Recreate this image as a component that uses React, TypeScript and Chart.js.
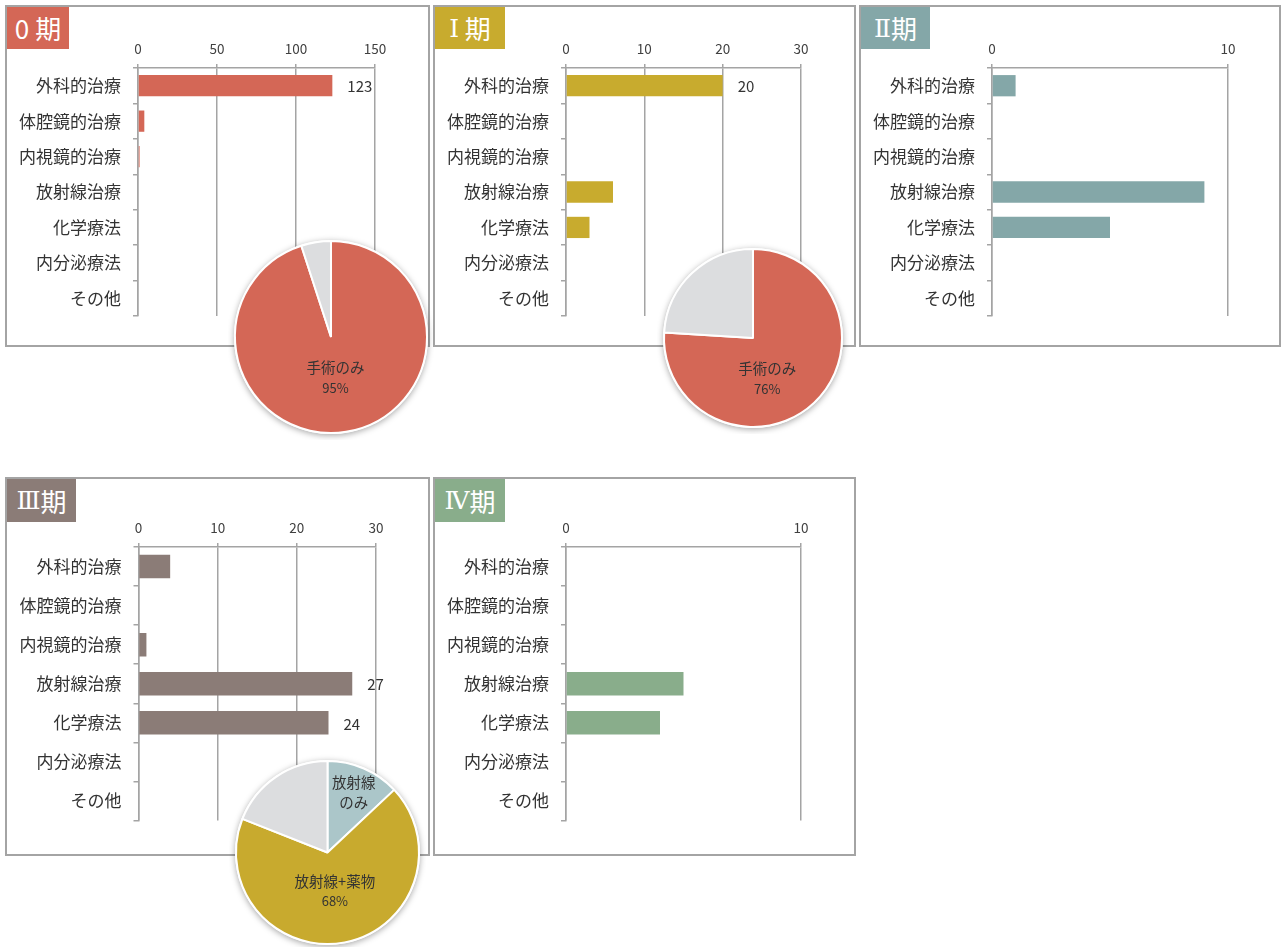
import React, { useEffect, useRef } from "react";
import { Chart, registerables } from "chart.js";

Chart.register(...registerables);

const FONT = '"Noto Sans CJK JP", "Noto Sans", sans-serif';
const NUMERAL_FONT = '"DejaVu Serif", "Liberation Serif", serif';
const GRID = "#a4a4a4";

// ---------- data ----------
const categories = ["外科的治療", "体腔鏡的治療", "内視鏡的治療", "放射線治療", "化学療法", "内分泌療法", "その他"];

const stage0Values = [123, 4, 1, 0, 0, 0, 0];
const stage1Values = [20, 0, 0, 6, 3, 0, 0];
const stage2Values = [1, 0, 0, 9, 5, 0, 0];
const stage3Values = [4, 0, 1, 27, 24, 0, 0];
const stage4Values = [0, 0, 0, 5, 4, 0, 0];

const stage0ValueLabels = ["123", "", "", "", "", "", ""];
const stage1ValueLabels = ["20", "", "", "", "", "", ""];
const stage2ValueLabels = ["", "", "", "", "", "", ""];
const stage3ValueLabels = ["", "", "", "27", "24", "", ""];
const stage4ValueLabels = ["", "", "", "", "", "", ""];

const stage0Ticks = [0, 50, 100, 150];
const stage1Ticks = [0, 10, 20, 30];
const stage2Ticks = [0, 10];
const stage3Ticks = [0, 10, 20, 30];
const stage4Ticks = [0, 10];

const stageTitles = ["0 期", "Ⅰ 期", "Ⅱ期", "Ⅲ期", "Ⅳ期"];

const pie0Values = [95, 5];
const pie0Names = ["手術のみ", ""];
const pie0ShowPct = [true, false];
const pie0Colors = ["#d46756", "#dcdddf"];

const pie1Values = [76, 24];
const pie1Names = ["手術のみ", ""];
const pie1ShowPct = [true, false];
const pie1Colors = ["#d46756", "#dcdddf"];

const pie3Values = [13, 68, 19];
const pie3Names = ["放射線\nのみ", "放射線+薬物", ""];
const pie3ShowPct = [false, true, false];
const pie3Colors = ["#abc6c9", "#c8aa2e", "#dcdddf"];

// ---------- layout ----------
type Box = { x: number; y: number; w: number; h: number };
type Area = { l: number; t: number; r: number; b: number };

const panels = [
  { box: { x: 5, y: 5, w: 425, h: 342 }, area: { l: 138, t: 68, r: 375, b: 316 }, badge: { x: 7, y: 7, w: 62, h: 42 }, color: "#d46756", values: stage0Values, labels: stage0ValueLabels, ticks: stage0Ticks, title: stageTitles[0] },
  { box: { x: 433, y: 5, w: 423, h: 342 }, area: { l: 566, t: 68, r: 801, b: 316 }, badge: { x: 435, y: 7, w: 70, h: 42 }, color: "#c8ab2e", values: stage1Values, labels: stage1ValueLabels, ticks: stage1Ticks, title: stageTitles[1] },
  { box: { x: 859, y: 5, w: 422, h: 342 }, area: { l: 992, t: 68, r: 1228, b: 316 }, badge: { x: 861, y: 7, w: 69, h: 42 }, color: "#84a7a8", values: stage2Values, labels: stage2ValueLabels, ticks: stage2Ticks, title: stageTitles[2] },
  { box: { x: 5, y: 477, w: 425, h: 379 }, area: { l: 138.5, t: 547, r: 376, b: 820.5 }, badge: { x: 7, y: 479, w: 69, h: 43 }, color: "#8b7c77", values: stage3Values, labels: stage3ValueLabels, ticks: stage3Ticks, title: stageTitles[3] },
  { box: { x: 433, y: 477, w: 423, h: 379 }, area: { l: 566, t: 547, r: 801, b: 820.5 }, badge: { x: 435, y: 479, w: 70, h: 43 }, color: "#89ad8b", values: stage4Values, labels: stage4ValueLabels, ticks: stage4Ticks, title: stageTitles[4] },
];

const pies = [
  { cx: 331, cy: 337, r: 96, values: pie0Values, names: pie0Names, showPct: pie0ShowPct, colors: pie0Colors, nudge: { dx: -2, dy: 0 } },
  { cx: 752.5, cy: 338, r: 89, values: pie1Values, names: pie1Names, showPct: pie1ShowPct, colors: pie1Colors, nudge: { dx: -12, dy: 13 } },
  { cx: 327, cy: 852, r: 91.5, values: pie3Values, names: pie3Names, showPct: pie3ShowPct, colors: pie3Colors, nudge: { dx: 0, dy: 0 } },
];

// ---------- plugins ----------
const valueLabelPlugin = {
  id: "valueLabels",
  afterDatasetsDraw(chart: any, _args: any, opts: any) {
    const labels: string[] = opts && opts.labels;
    if (!labels) return;
    const ctx = chart.ctx;
    const meta = chart.getDatasetMeta(0);
    ctx.save();
    ctx.font = `15px ${FONT}`;
    ctx.fillStyle = "#333";
    ctx.textAlign = "left";
    ctx.textBaseline = "middle";
    meta.data.forEach((bar: any, i: number) => {
      if (labels[i]) ctx.fillText(labels[i], bar.x + 15, bar.y + 1);
    });
    ctx.restore();
  },
};

const pieShadowPlugin = {
  id: "pieShadow",
  beforeDatasetsDraw(chart: any) {
    const meta = chart.getDatasetMeta(0);
    const a = meta.data[0];
    if (!a) return;
    const ctx = chart.ctx;
    ctx.save();
    ctx.shadowColor = "rgba(0,0,0,0.35)";
    ctx.shadowBlur = 6;
    ctx.shadowOffsetY = 1.5;
    ctx.fillStyle = "#fff";
    ctx.beginPath();
    ctx.arc(a.x, a.y, a.outerRadius + 1, 0, Math.PI * 2);
    ctx.fill();
    ctx.restore();
  },
};

const pieLabelPlugin = {
  id: "pieLabels",
  afterDatasetsDraw(chart: any, _args: any, opts: any) {
    const names: string[] = opts.names;
    const showPct: boolean[] = opts.showPct;
    const nudge = opts.nudge || { dx: 0, dy: 0 };
    const values: number[] = chart.data.datasets[0].data;
    const sum = values.reduce((s, v) => s + v, 0);
    const meta = chart.getDatasetMeta(0);
    const ctx = chart.ctx;
    ctx.save();
    ctx.fillStyle = "#333";
    ctx.textAlign = "center";
    ctx.textBaseline = "middle";
    meta.data.forEach((arc: any, i: number) => {
      if (!names[i]) return;
      const frac = values[i] / sum;
      const mid = (arc.startAngle + arc.endAngle) / 2;
      const big = frac >= 0.2;
      const d = arc.outerRadius * (big ? 0.43 : 0.72);
      const x = arc.x + Math.cos(mid) * d + (big ? nudge.dx : 0);
      const y = arc.y + Math.sin(mid) * d + (big ? nudge.dy : 0);
      const lines = names[i].split("\n").map((t) => ({ t, size: 14.5 }));
      if (showPct[i]) lines.push({ t: Math.round(frac * 100) + "%", size: 13 });
      const lh = 20;
      const y0 = y - ((lines.length - 1) * lh) / 2;
      lines.forEach((ln, k) => {
        ctx.font = `${ln.size}px ${FONT}`;
        ctx.fillText(ln.t, x, y0 + k * lh);
      });
    });
    ctx.restore();
  },
};

// ---------- components ----------
function BadgeText({ text }: { text: string }) {
  return (
    <>
      {Array.from(text).map((ch, i) => {
        const isRoman = ch >= "\u2160" && ch <= "\u216F";
        return (
          <span key={i} style={isRoman ? { fontFamily: NUMERAL_FONT, fontSize: 25 } : undefined}>
            {ch}
          </span>
        );
      })}
    </>
  );
}

function BarPanel({ cfg }: { cfg: (typeof panels)[number] }) {
  const ref = useRef<HTMLCanvasElement>(null);
  const box: Box = cfg.box;
  const area: Area = cfg.area;
  const cx = box.x + 2;
  const cy = box.y + 2;
  const cw = box.w - 4;
  const ch = box.h - 4;

  useEffect(() => {
    const L = area.l - cx;
    const T = area.t - cy;
    const R = cx + cw - area.r;
    const B = cy + ch - area.b;
    const ticks = cfg.ticks;
    const chart = new Chart(ref.current as HTMLCanvasElement, {
      type: "bar",
      data: {
        labels: categories,
        datasets: [
          {
            data: cfg.values,
            backgroundColor: cfg.color,
            borderWidth: 0,
            barPercentage: 0.6,
            categoryPercentage: 1,
          },
        ],
      },
      options: {
        indexAxis: "y",
        animation: false,
        responsive: false,
        maintainAspectRatio: false,
        layout: { padding: { left: 0, top: 0, right: R, bottom: B } },
        plugins: {
          legend: { display: false },
          tooltip: { enabled: false },
          valueLabels: { labels: cfg.labels },
        } as any,
        scales: {
          x: {
            type: "linear",
            position: "top",
            min: 0,
            max: ticks[ticks.length - 1],
            afterBuildTicks: (s: any) => {
              s.ticks = ticks.map((v) => ({ value: v }));
            },
            afterFit: (s: any) => {
              s.height = T;
            },
            grid: { color: GRID, lineWidth: 1.5, tickLength: 4, drawTicks: true },
            border: { display: true, color: GRID, width: 1.5 },
            ticks: { font: { family: FONT, size: 13.5 }, color: "#404040", padding: 7, maxRotation: 0, autoSkip: false },
          },
          y: {
            type: "category",
            afterFit: (s: any) => {
              s.width = L;
            },
            grid: { display: true, offset: true, drawOnChartArea: false, tickLength: 5, color: GRID, lineWidth: 1.5 },
            border: { display: true, color: GRID, width: 1.5 },
            ticks: { font: { family: FONT, size: 17 }, color: "#333", padding: 12, autoSkip: false },
          },
        },
      } as any,
      plugins: [valueLabelPlugin],
    });
    return () => chart.destroy();
  }, []);

  return (
    <>
      <div
        style={{
          position: "absolute",
          left: box.x,
          top: box.y,
          width: box.w,
          height: box.h,
          border: `2px solid ${GRID}`,
          boxSizing: "border-box",
          background: "#fff",
        }}
      />
      <canvas
        ref={ref}
        width={cw}
        height={ch}
        style={{ position: "absolute", left: cx, top: cy, width: cw, height: ch }}
      />
      <div
        style={{
          position: "absolute",
          left: cfg.badge.x,
          top: cfg.badge.y,
          width: cfg.badge.w,
          height: cfg.badge.h,
          background: cfg.color,
          color: "#fff",
          fontFamily: FONT,
          fontSize: 26,
          lineHeight: 1,
          display: "flex",
          alignItems: "center",
          justifyContent: "center",
          whiteSpace: "pre",
        }}
      >
        <BadgeText text={cfg.title} />
      </div>
    </>
  );
}

function PiePanel({ cfg }: { cfg: (typeof pies)[number] }) {
  const ref = useRef<HTMLCanvasElement>(null);
  const size = Math.round(2 * (cfg.r + 7));
  const left = cfg.cx - size / 2;
  const top = cfg.cy - size / 2;

  useEffect(() => {
    const chart = new Chart(ref.current as HTMLCanvasElement, {
      type: "pie",
      data: {
        labels: cfg.names.map((n) => n.replace("\n", "")),
        datasets: [
          {
            data: cfg.values,
            backgroundColor: cfg.colors,
            borderColor: "#ffffff",
            borderWidth: 2,
          },
        ],
      },
      options: {
        animation: false,
        responsive: false,
        maintainAspectRatio: false,
        radius: cfg.r,
        layout: { padding: 0 },
        plugins: {
          legend: { display: false },
          tooltip: { enabled: false },
          pieLabels: { names: cfg.names, showPct: cfg.showPct, nudge: cfg.nudge },
        } as any,
      } as any,
      plugins: [pieShadowPlugin, pieLabelPlugin],
    });
    return () => chart.destroy();
  }, []);

  return (
    <canvas
      ref={ref}
      width={size}
      height={size}
      style={{ position: "absolute", left, top, width: size, height: size }}
    />
  );
}

export default function App() {
  return (
    <div
      style={{
        position: "absolute",
        left: 0,
        top: 0,
        width: 1282,
        height: 947,
        overflow: "hidden",
        background: "#fff",
      }}
    >
      {panels.map((p, i) => (
        <BarPanel key={"b" + i} cfg={p} />
      ))}
      {pies.map((p, i) => (
        <PiePanel key={"p" + i} cfg={p} />
      ))}
    </div>
  );
}
